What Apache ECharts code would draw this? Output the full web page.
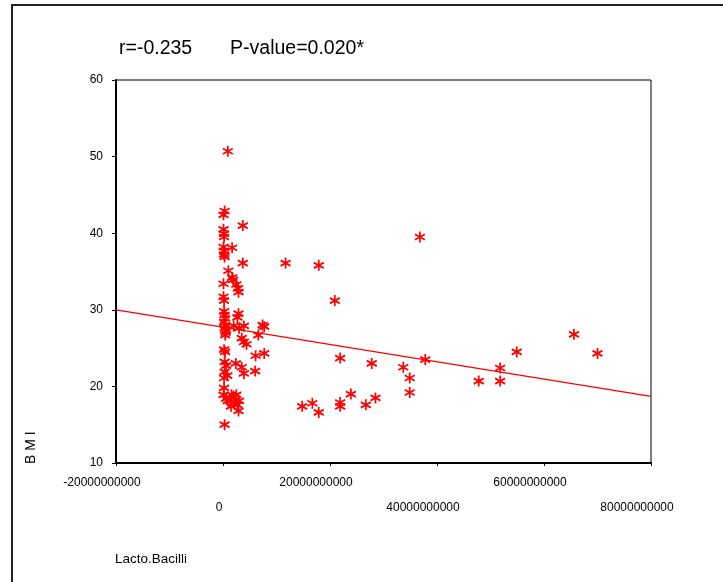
<!DOCTYPE html>
<html lang="en">
<head>
    <meta charset="UTF-8">
    <title>Lacto.Bacilli vs BMI</title>
    <script type="text/javascript" src="https://cdn.jsdelivr.net/npm/echarts@6.0.0/dist/echarts.min.js"></script>
    <style type="text/css">
        html, body {
            margin: 0;
            padding: 0;
            height: 100%;
            width: 100%;
            background: #fff;
        }
        #chart {
            height: 582px;
            width: 723px;
        }
    </style>
</head>
<body>

<div id="chart"></div>

<script type="text/javascript">
    // values
    var lacto = [
        0.9e9, 0.3e9, 0.1e9, 3.7e9, 0.1e9, 0.2e9, 0.2e9, 1.7e9, 0.1e9, 0.2e9,
        0.2e9, 0.3e9, 3.7e9, 1.0e9, 1.7e9, 1.9e9, 2.5e9, 2.8e9, 2.9e9, 0.1e9,
        0.1e9, 0.2e9, 2.9e9, 2.7e9, 0.3e9, 0.4e9, 0.2e9, 0.4e9, 0.3e9, 0.5e9,
        0.4e9, 0.2e9, 0.6e9, 2.0e9, 3.0e9, 3.9e9, 7.4e9, 7.7e9, 6.6e9, 3.5e9,
        3.9e9, 4.4e9, 0.2e9, 0.4e9, 6.1e9, 7.7e9, 0.3e9, 2.4e9, 3.5e9, 3.9e9,
        6.0e9, 0.6e9, 0.3e9, 0.2e9, 0.8e9, 0.2e9, 0.1e9, 0.6e9, 1.6e9, 2.0e9,
        2.5e9, 2.1e9, 2.7e9, 2.9e9, 1.5e9, 3.0e9, 0.9e9, 0.3e9,
        11.7e9, 17.9e9, 20.9e9, 36.8e9, 21.9e9, 27.8e9, 33.7e9, 34.9e9, 37.8e9, 34.9e9,
        23.9e9, 28.5e9, 26.7e9, 21.9e9, 21.9e9, 16.7e9, 14.8e9, 17.9e9, 65.6e9, 70.0e9,
        54.9e9, 51.8e9, 47.8e9, 51.8e9
    ];
    var bmi = [
        50.7, 42.9, 42.4, 41.0, 40.5, 39.9, 39.5, 38.1, 38.2, 37.7,
        37.2, 36.9, 36.1, 35.1, 34.2, 33.9, 33.3, 32.8, 32.3, 33.4,
        31.7, 31.2, 29.5, 29.0, 29.3, 28.9, 28.4, 28.0, 27.6, 27.0,
        26.7, 29.8, 27.3, 27.9, 27.6, 27.9, 28.0, 27.8, 26.7, 26.3,
        25.8, 25.5, 24.8, 24.5, 24.0, 24.3, 23.2, 23.0, 22.5, 21.7,
        22.0, 22.7, 21.9, 21.1, 21.4, 19.8, 18.9, 18.4, 18.9, 18.7,
        18.9, 18.0, 17.6, 16.8, 17.4, 18.1, 18.1, 15.0,
        36.1, 35.8, 31.2, 39.5, 23.7, 23.0, 22.5, 21.1, 23.5, 19.2,
        19.0, 18.5, 17.6, 17.9, 17.4, 17.8, 17.4, 16.6, 26.8, 24.3,
        24.5, 22.4, 20.7, 20.7
    ];

    // fitted line ends, at the axis limits
    var fitX = [-20000000000, 80000000000];
    var fitY = [30.0, 18.7];

    var xTicks = [-20000000000, 0, 20000000000, 40000000000, 60000000000, 80000000000];
    var xRowOne = ['-20000000000', '20000000000', '60000000000'];
    var xRowTwo = ['0', '40000000000', '80000000000'];

    var titleText = 'r=-0.235       P-value=0.020*';

    var font = "'Liberation Sans Narrow', 'Liberation Sans', Arial, sans-serif";
    var star = 'path://M0,-5L0,5M-4.33,-2.5L4.33,2.5M-4.33,2.5L4.33,-2.5';

    var myChart = echarts.init(document.getElementById('chart'));

    function fullLabel(v) {
        return String(Math.round(v));
    }

    function labelFor(row) {
        return function (v) {
            var s = fullLabel(v);
            if (row.indexOf(s) < 0) return '';
            return s === '0' ? '{z|' + s + '}' : '{a|' + s + '}';
        };
    }

    var richStyles = {
        a: {padding: [0, 28, 0, 0], fontSize: 12, fontFamily: font, color: '#000'},
        z: {padding: [0, 8, 0, 0], fontSize: 12, fontFamily: font, color: '#000'}
    };

    var option = {
        animation: false,
        backgroundColor: '#fff',
        title: {
            text: titleText,
            left: 114,
            top: 34,
            textStyle: {
                fontFamily: font,
                fontSize: 19.5,
                fontWeight: 'normal',
                color: '#000'
            }
        },
        grid: {
            left: 116,
            right: 72,
            top: 80,
            bottom: 119,
            show: true,
            borderColor: '#000',
            borderWidth: 1
        },
        xAxis: [
            {
                type: 'value',
                min: xTicks[0],
                max: xTicks[xTicks.length - 1],
                interval: 20000000000,
                axisLine: {onZero: false, lineStyle: {color: '#000', width: 2}},
                axisTick: {length: 3, lineStyle: {color: '#000'}},
                splitLine: {show: false},
                axisLabel: {
                    margin: 14,
                    formatter: labelFor(xRowOne),
                    rich: richStyles
                }
            },
            {
                type: 'value',
                min: xTicks[0],
                max: xTicks[xTicks.length - 1],
                interval: 20000000000,
                position: 'bottom',
                axisLine: {show: false, onZero: false},
                axisTick: {show: false},
                splitLine: {show: false},
                axisLabel: {
                    margin: 39,
                    formatter: labelFor(xRowTwo),
                    rich: richStyles
                }
            }
        ],
        yAxis: {
            type: 'value',
            min: 10,
            max: 60,
            interval: 10,
            axisLine: {show: true, onZero: false, lineStyle: {color: '#000', width: 2}},
            axisTick: {show: true, length: 4, lineStyle: {color: '#000'}},
            splitLine: {show: false},
            axisLabel: {
                margin: 13,
                fontSize: 12,
                fontFamily: font,
                color: '#000'
            }
        },
        graphic: [
            {
                type: 'rect',
                shape: {x: 12, y: 5, width: 800, height: 700},
                style: {fill: 'none', stroke: '#222', lineWidth: 2},
                silent: true
            },
            {
                type: 'text',
                x: 24,
                y: 464,
                rotation: Math.PI / 2,
                style: {
                    text: 'B M I',
                    fontSize: 14,
                    fontFamily: font,
                    fill: '#000',
                    align: 'left',
                    verticalAlign: 'top'
                }
            },
            {
                type: 'text',
                x: 115,
                y: 559,
                style: {
                    text: 'Lacto.Bacilli',
                    fontSize: 13.5,
                    fontFamily: font,
                    fill: '#000',
                    verticalAlign: 'middle'
                }
            }
        ],
        series: [
            {
                type: 'scatter',
                symbol: star,
                symbolSize: [10, 11],
                itemStyle: {
                    color: 'none',
                    borderColor: '#ff0000',
                    borderWidth: 1.8,
                    opacity: 1
                },
                data: lacto.map(function (x, i) {
                    return [x, bmi[i]];
                }),
                z: 3
            },
            {
                type: 'line',
                symbol: 'none',
                lineStyle: {color: '#ff0000', width: 1.3},
                data: fitX.map(function (x, i) {
                    return [x, fitY[i]];
                }),
                z: 2
            }
        ]
    };
    myChart.setOption(option);
</script>

</body>
</html>
